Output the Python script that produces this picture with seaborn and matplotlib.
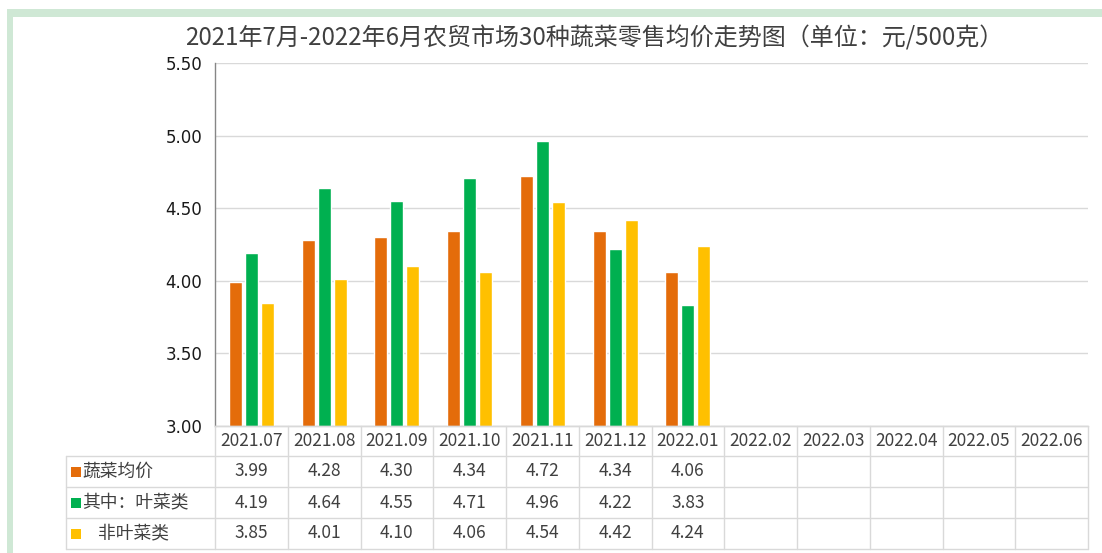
import matplotlib
matplotlib.use("Agg")
import matplotlib.pyplot as plt
import matplotlib.transforms as mtransforms
from matplotlib.patches import Rectangle
import seaborn as sns
import pandas as pd
import numpy as np

months = ["2021.07", "2021.08", "2021.09", "2021.10", "2021.11", "2021.12",
          "2022.01", "2022.02", "2022.03", "2022.04", "2022.05", "2022.06"]
series_names = ["蔬菜均价", "其中：叶菜类", "非叶菜类"]
row_labels = ["蔬菜均价", "其中：叶菜类", "    非叶菜类"]
veg_avg = [3.99, 4.28, 4.30, 4.34, 4.72, 4.34, 4.06, None, None, None, None, None]
leafy = [4.19, 4.64, 4.55, 4.71, 4.96, 4.22, 3.83, None, None, None, None, None]
non_leafy = [3.85, 4.01, 4.10, 4.06, 4.54, 4.42, 4.24, None, None, None, None, None]
colors = ["#E46C0A", "#00B050", "#FFC000"]
title = "2021年7月-2022年6月农贸市场30种蔬菜零售均价走势图（单位：元/500克）"
yticks = [3.00, 3.50, 4.00, 4.50, 5.00, 5.50]

sns.set_theme(style="white")
plt.rcParams['font.family'] = ['Noto Sans CJK SC', 'DejaVu Sans']

W, H = 1102, 553
fig = plt.figure(figsize=(W / 100, H / 100), dpi=100)
fig.patch.set_facecolor("white")

# light green frame
frame_c = "#CFE8D5"
fig.patches.append(Rectangle((7 / W, 1 - 17 / H), 1 - 7 / W, 8 / H, transform=fig.transFigure,
                             facecolor=frame_c, edgecolor="none"))
fig.patches.append(Rectangle((7 / W, 0), 6 / W, 1 - 9 / H, transform=fig.transFigure,
                             facecolor=frame_c, edgecolor="none"))

ax_l, ax_r, ax_t, ax_b = 215, 1088, 63, 426
ax = fig.add_axes([ax_l / W, 1 - ax_b / H, (ax_r - ax_l) / W, (ax_b - ax_t) / H])

all_series = [veg_avg, leafy, non_leafy]
rows = []
for name, vals in zip(series_names, all_series):
    for m, v in zip(months, vals):
        rows.append({"month": m, "series": name, "value": np.nan if v is None else v})
df = pd.DataFrame(rows)

sns.barplot(data=df, x="month", y="value", hue="series", order=months, hue_order=series_names,
            palette=colors, width=0.66, gap=0.18, errorbar=None, legend=False, ax=ax,
            saturation=1)

ax.set_ylim(3.0, 5.5)
ax.set_xlim(-0.5, len(months) - 0.5)
ax.set_yticks(yticks)
ax.set_yticklabels([f"{t:.2f}" for t in yticks], fontsize=12, color="#1a1a1a",
                   family="DejaVu Sans")
ax.set_xticks(range(len(months)))
ax.set_xticklabels([])
ax.tick_params(axis="x", length=0)
ax.tick_params(axis="y", length=5, width=1, color="#868686", direction="out", pad=4)
ax.set_xlabel("")
ax.set_ylabel("")
ax.yaxis.grid(True, color="#D9D9D9", linewidth=1)
ax.set_axisbelow(True)
for s in ["top", "right"]:
    ax.spines[s].set_visible(False)
ax.spines["left"].set_color("#868686")
ax.spines["bottom"].set_color("#D9D9D9")
ax.spines["left"].set_linewidth(1)
ax.spines["bottom"].set_linewidth(1)

fig.text(594 / W, 1 - 38 / H, title, ha="center", va="center", fontsize=17.3, color="#404040")

# table under the axis: x in data coordinates, y in image pixels (top origin)
pix_tr = mtransforms.Affine2D().scale(1, -1).translate(0, H)
tr = mtransforms.blended_transform_factory(ax.transData, pix_tr)

line_c = "#D9D9D9"
row_edges = [426, 456, 487, 518, 549]
n = len(months)
x0, x1 = -0.5, n - 0.5
left_px = 66

fig.add_artist(plt.Line2D([x0, x1], [row_edges[0]] * 2, transform=tr, color=line_c, lw=1))
for y in row_edges[1:]:
    fig.add_artist(plt.Line2D([left_px, ax_r], [y, y], transform=pix_tr, color=line_c, lw=1))
for i in range(n + 1):
    xb = i - 0.5
    fig.add_artist(plt.Line2D([xb, xb], [row_edges[0], row_edges[-1]], transform=tr,
                              color=line_c, lw=1))
fig.add_artist(plt.Line2D([left_px, left_px], [row_edges[1], row_edges[-1]], transform=pix_tr,
                          color=line_c, lw=1))

txt_c = "#404040"
for i, m in enumerate(months):
    fig.text(i, (row_edges[0] + row_edges[1]) / 2, m, transform=tr, ha="center", va="center",
             fontsize=12.5, color=txt_c)
for r, vals in enumerate(all_series):
    yc = (row_edges[r + 1] + row_edges[r + 2]) / 2
    for i, v in enumerate(vals):
        if v is not None:
            fig.text(i, yc, f"{v:.2f}", transform=tr, ha="center", va="center",
                     fontsize=12.5, color=txt_c)
    fig.patches.append(Rectangle((71, yc - 5), 10, 10, transform=pix_tr,
                                 facecolor=colors[r], edgecolor="none"))
    fig.text(82, yc, row_labels[r], transform=pix_tr, ha="left", va="center",
             fontsize=12.8, color=txt_c)

fig.savefig("out.png", dpi=100, facecolor="white")
